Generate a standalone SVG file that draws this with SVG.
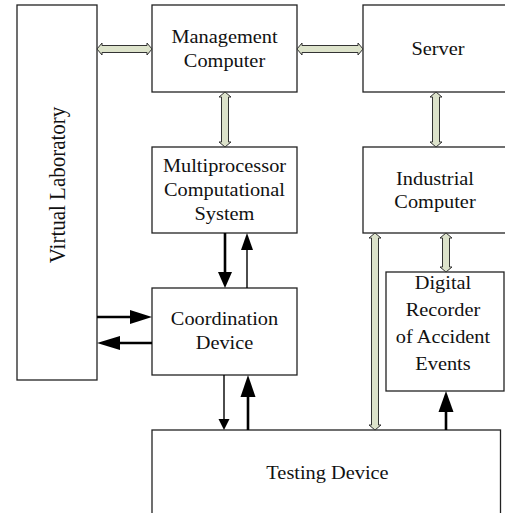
<svg xmlns="http://www.w3.org/2000/svg" width="505" height="513" viewBox="0 0 505 513">
<style>
.box{fill:#fff;stroke:#222;stroke-width:1.3}
.t{font-family:"Liberation Serif","Times New Roman",serif;font-size:18.5px;fill:#111;text-anchor:middle}
.vt{font-family:"Liberation Serif","Times New Roman",serif;font-size:21px;fill:#111;text-anchor:middle}
.ha{fill:#dde3cb;stroke:#333;stroke-width:1}
.thick{stroke:#000;stroke-width:2.6;fill:none}
.thin{stroke:#000;stroke-width:1.4;fill:none}
.head{fill:#000;stroke:none}
</style>
<rect width="505" height="513" fill="#fff"/>
<g id="virtual-laboratory">
<rect class="box" x="17" y="5" width="80" height="375"/>
<text class="vt" transform="translate(65,185) scale(1.1,1) rotate(-90)" x="0" y="0">Virtual Laboratory</text>
</g>
<g id="management-computer">
<rect class="box" x="152" y="5" width="145" height="87"/>
<text class="t" transform="matrix(1.1 0 0 1 224.5 0)" x="0" y="43">Management</text>
<text class="t" transform="matrix(1.1 0 0 1 224.5 0)" x="0" y="67">Computer</text>
</g>
<g id="server">
<rect class="box" x="363" y="5" width="150" height="87"/>
<text class="t" transform="matrix(1.1 0 0 1 438 0)" x="0" y="55">Server</text>
</g>
<g id="multiprocessor">
<rect class="box" x="152" y="147" width="145" height="86"/>
<text class="t" transform="matrix(1.1 0 0 1 224.5 0)" x="0" y="172">Multiprocessor</text>
<text class="t" transform="matrix(1.1 0 0 1 224.5 0)" x="0" y="196">Computational</text>
<text class="t" transform="matrix(1.1 0 0 1 224.5 0)" x="0" y="220">System</text>
</g>
<g id="industrial-computer">
<rect class="box" x="363" y="147" width="150" height="86"/>
<text class="t" transform="matrix(1.1 0 0 1 435 0)" x="0" y="185">Industrial</text>
<text class="t" transform="matrix(1.1 0 0 1 435 0)" x="0" y="208">Computer</text>
</g>
<g id="coordination-device">
<rect class="box" x="152" y="288" width="145" height="87"/>
<text class="t" transform="matrix(1.1 0 0 1 224.5 0)" x="0" y="325">Coordination</text>
<text class="t" transform="matrix(1.1 0 0 1 224.5 0)" x="0" y="349">Device</text>
</g>
<g id="digital-recorder">
<rect class="box" x="386" y="272" width="118" height="119"/>
<text class="t" transform="matrix(1.1 0 0 1 443 0)" x="0" y="289">Digital</text>
<text class="t" transform="matrix(1.1 0 0 1 443 0)" x="0" y="316">Recorder</text>
<text class="t" transform="matrix(1.1 0 0 1 443 0)" x="0" y="343">of Accident</text>
<text class="t" transform="matrix(1.1 0 0 1 443 0)" x="0" y="370">Events</text>
</g>
<g id="testing-device">
<rect class="box" x="152" y="430" width="348.5" height="95"/>
<text class="t" transform="matrix(1.1 0 0 1 327.5 0)" x="0" y="479">Testing Device</text>
</g>
<g id="connectors">
<!-- hollow double arrows -->
<polygon class="ha" points="97,49 102,43 102,45.5 147,45.5 147,43 152,49 147,55 147,52.5 102,52.5 102,55"/>
<polygon class="ha" points="297,49 302,43 302,45.5 358,45.5 358,43 363,49 358,55 358,52.5 302,52.5 302,55"/>
<polygon class="ha" points="225,92 231,97 228.5,97 228.5,142 231,142 225,147 219,142 221.5,142 221.5,97 219,97"/>
<polygon class="ha" points="436,92 442,97 439.5,97 439.5,142 442,142 436,147 430,142 432.5,142 432.5,97 430,97"/>
<polygon class="ha" points="446,233 452,238 449.5,238 449.5,267 452,267 446,272 440,267 442.5,267 442.5,238 440,238"/>
<polygon class="ha" points="375,233 381,238 378.5,238 378.5,425 381,425 375,430 369,425 371.5,425 371.5,238 369,238"/>
<!-- black arrows -->
<line class="thick" x1="225" y1="233" x2="225" y2="273"/>
<polygon class="head" points="218,272 232,272 225,288"/>
<line class="thin" x1="247" y1="288" x2="247" y2="249"/>
<polygon class="head" points="241,250 253,250 247,233"/>
<line class="thick" x1="97" y1="317" x2="131" y2="317"/>
<polygon class="head" points="130,310 130,324 152,317"/>
<line class="thick" x1="152" y1="343" x2="119" y2="343"/>
<polygon class="head" points="120,336 120,350 97,343"/>
<line class="thin" x1="224" y1="375" x2="224" y2="420"/>
<polygon class="head" points="218.5,419 229.5,419 224,430"/>
<line class="thick" x1="248" y1="430" x2="248" y2="396"/>
<polygon class="head" points="240.5,397 255.5,397 248,375"/>
<line class="thick" x1="446" y1="430" x2="446" y2="411"/>
<polygon class="head" points="438.5,412 453.5,412 446,391"/>
</g>
</svg>
